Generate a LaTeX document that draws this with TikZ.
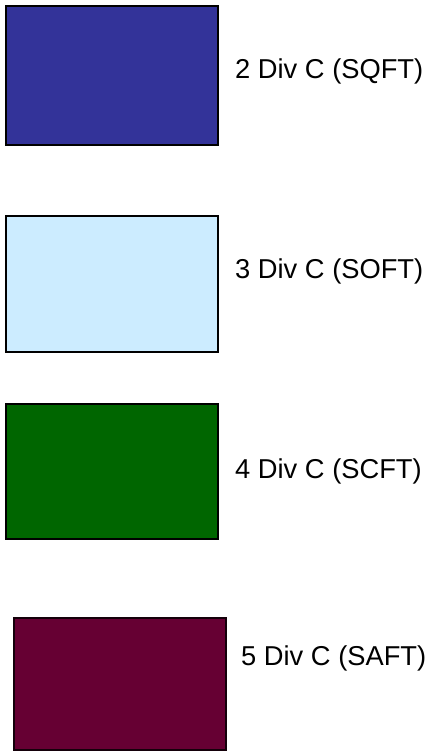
\documentclass[tikz,border=0pt]{standalone}
\usepackage{fontspec}
\setmainfont{Liberation Sans}
\definecolor{cA}{HTML}{333399}
\definecolor{cB}{HTML}{CCECFF}
\definecolor{cC}{HTML}{006600}
\definecolor{cD}{HTML}{660033}
\begin{document}
\begin{tikzpicture}[x=1pt,y=-1pt,
  swatch/.style={draw=black,line width=2pt},
  lbl/.style={anchor=base west,inner sep=0pt,font=\fontsize{27.3}{31}\selectfont}]
\useasboundingbox (0,0) rectangle (430,752);
\fill[white] (0,0) rectangle (430,752);
\draw[swatch,fill=cA] (6,6) rectangle (218,145);
\node[lbl] (t1) at (235,78) {2 Div C (SQFT)};
\draw[swatch,fill=cB] (6,216) rectangle (218,352);
\node[lbl] (t2) at (235,278) {3 Div C (SOFT)};
\draw[swatch,fill=cC] (6,404) rectangle (218,539);
\node[lbl] (t3) at (235,478) {4 Div C (SCFT)};
\draw[swatch,draw=black!80!cD,fill=cD] (14,618) rectangle (226,750);
\node[lbl] (t4) at (241,665) {5 Div C (SAFT)};
\end{tikzpicture}
\end{document}
